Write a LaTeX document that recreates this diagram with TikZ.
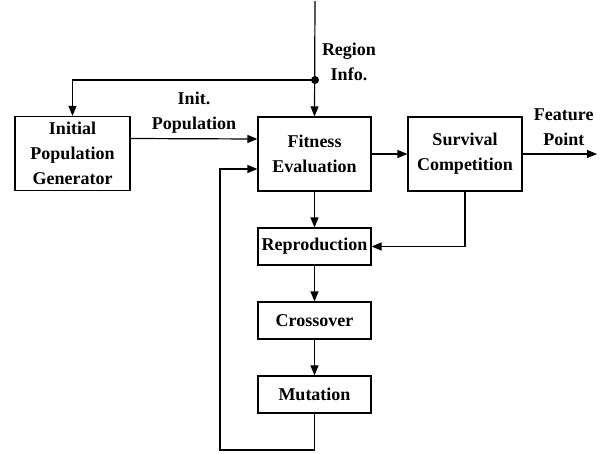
\documentclass[tikz,border=0pt]{standalone}
\usepackage{fontspec}
\setmainfont{Liberation Serif}
\usetikzlibrary{arrows.meta, positioning, calc}

\begin{document}
\begin{tikzpicture}[
		x=1pt, y=1pt,
		block/.style={draw=black, line width=1.2pt, minimum width=113pt, inner sep=0pt, align=center, font=\fontsize{18pt}{25pt}\selectfont\bfseries},
		lbl/.style={align=center, inner sep=0pt, font=\fontsize{18pt}{25pt}\selectfont\bfseries},
		arr/.style={line width=1.2pt, -{Triangle[length=10pt, width=8pt]}}
		]
		\useasboundingbox (0,0) rectangle (600,-453);
		
		% ==========================================
		% 1. MAIN BLOCKS
		% ==========================================
		\node[block, minimum width=115pt, minimum height=74pt] (init) at (72.5,-153.5) {Initial\\Population\\Generator};
		\node[block, minimum height=74pt] (fit) at (314.5,-154) {Fitness\\Evaluation};
		\node[block, minimum width=114pt, minimum height=74pt] (surv) at (465,-154) {Survival\\Competition};
		
		% Genetic operators: name / centre y / text
		\foreach \name/\y/\txt in {
			repro/246.5/Reproduction,
			cross/320.5/Crossover,
			mut/394.5/Mutation%
		} {
			\node[block, minimum height=37pt] (\name) at (314.5,-\y) {\txt};
		}
		
		% ==========================================
		% 2. INPUT / OUTPUT
		% ==========================================
		\coordinate (src) at (315,-1);
		\coordinate (split) at (315,-80);
		\coordinate (out) at (597,-154);
		
		\draw[arr] (src) -- (fit.north);
		\fill (split) circle (4pt);
		\draw[arr] (split) -| (init.north);
		\node[lbl, anchor=base] (region) at (349,-80) {Region\\Info.};
		
		\draw[arr] ([yshift=15pt]init.east) -- ([yshift=15pt]fit.west)
		node[lbl, midway, anchor=base, yshift=9pt] (initlbl) {Init.\\Population};
		
		\draw[arr] (fit.east) -- (surv.west);
		\draw[arr] (surv.east) -- (out)
		node[lbl, midway, anchor=base, yshift=9pt, xshift=4pt] (featlbl) {Feature\\Point};
		
		% ==========================================
		% 3. GENETIC LOOP
		% ==========================================
		\draw[arr] (fit) -- (repro);
		\draw[arr] (repro) -- (cross);
		\draw[arr] (cross) -- (mut);
		\draw[arr] (surv.south) |- (repro.east);
		
		% Back to the fitness evaluation
		\coordinate (loop) at (220,-450);
		\draw[arr] (mut.south) |- (loop) |- ([yshift=-15pt]fit.west);
		
	\end{tikzpicture}
\end{document}
